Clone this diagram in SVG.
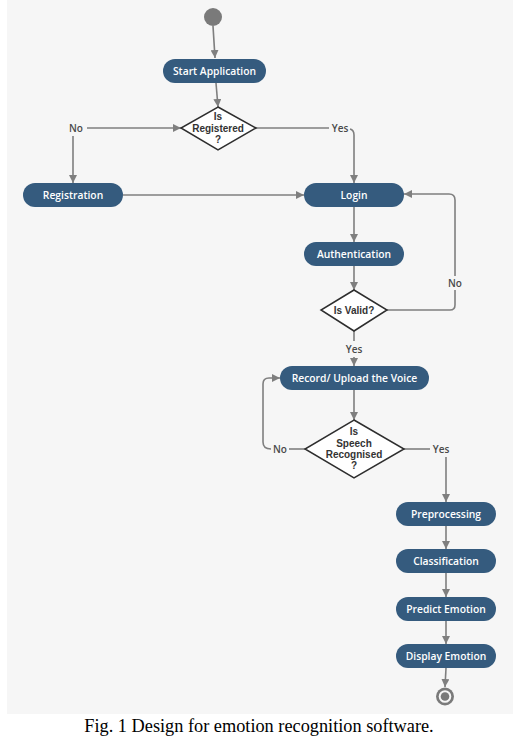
<svg xmlns="http://www.w3.org/2000/svg" width="517" height="745" viewBox="0 0 517 745">
<defs>
<marker id="ah" viewBox="0 0 10 10" refX="10" refY="5" markerWidth="8" markerHeight="8" markerUnits="userSpaceOnUse" orient="auto">
<path d="M0,0 L10,5 L0,10 Z" fill="#7f7f7f"/>
</marker>
<style>
.bg{fill:#f6f6f6}
.act{fill:#355b7e}
.act-t{fill:#ffffff;font-family:"Open Sans","Noto Sans",sans-serif;font-size:10.3px;font-weight:600;text-anchor:middle;dominant-baseline:central}
.dec{fill:#ffffff;stroke:#2e2e2e;stroke-width:1.5}
.dec-t{fill:#333333;font-family:"Liberation Sans",Arial,sans-serif;font-size:10px;font-weight:700;text-anchor:middle}
.lbl{fill:#4a4a4a;font-family:"Open Sans","Noto Sans",sans-serif;font-size:10px;font-weight:600;text-anchor:middle;dominant-baseline:central}
.c{fill:none;stroke:#7f7f7f;stroke-width:1.6}
.a{marker-end:url(#ah)}
.cap{fill:#000;font-family:"Liberation Serif","Times New Roman",serif;font-size:18.3px;text-anchor:middle}
</style>
</defs>
<rect class="bg" x="7" y="0" width="506" height="714"/>

<g id="connectors">
<path class="c a" d="M213,26 L215,58"/>
<path class="c a" d="M216,83 L218,107"/>
<path class="c a" d="M87,128 L181,128"/>
<path class="c a" d="M73,136 L73,183"/>
<path class="c" d="M256,128 L329,128"/>
<path class="c a" d="M350,129 Q354,130 354,135 L354,183"/>
<path class="c a" d="M123,195 L304,195"/>
<path class="c a" d="M354,207 L354,242"/>
<path class="c a" d="M354,266 L354,290"/>
<path class="c" d="M387,310 L450,310 Q455,310 455,305 L455,290"/>
<path class="c a" d="M455,276 L455,200 Q455,194 449,194 L404,194"/>
<path class="c" d="M354,331 L354,341"/>
<path class="c a" d="M354,357 L354,366"/>
<path class="c a" d="M354,390 L354,420"/>
<path class="c" d="M305,449 L289,449"/>
<path class="c a" d="M271,449 Q263,449 263,442 L263,384 Q263,378 269,378 L280,378"/>
<path class="c" d="M404,449 L430,449"/>
<path class="c a" d="M446,457 L446,502"/>
<path class="c a" d="M446,526 L446,549"/>
<path class="c a" d="M446,573 L446,597"/>
<path class="c a" d="M446,621 L446,644"/>
<path class="c a" d="M446,668 L445,687"/>
</g>

<g id="labels">
<text class="lbl" x="76" y="128">No</text>
<text class="lbl" x="340" y="128">Yes</text>
<text class="lbl" x="455" y="283">No</text>
<text class="lbl" x="354" y="349">Yes</text>
<text class="lbl" x="280" y="449">No</text>
<text class="lbl" x="441" y="449">Yes</text>
</g>

<g id="start"><circle cx="213" cy="17" r="9" fill="#7a7a7a"/></g>

<g id="start-application"><rect class="act" x="163" y="59" width="103" height="24" rx="12"/><text class="act-t" x="214.5" y="71">Start Application</text></g>

<g id="is-registered"><polygon class="dec" points="218,107 256,128 218,150 181,128"/><text class="dec-t"><tspan x="218" y="120.4">Is</tspan><tspan x="218" y="131.6">Registered</tspan><tspan x="218" y="142.8">?</tspan></text></g>

<g id="registration"><rect class="act" x="23" y="183" width="100" height="24" rx="12"/><text class="act-t" x="73" y="195">Registration</text></g>

<g id="login"><rect class="act" x="304" y="183" width="100" height="24" rx="12"/><text class="act-t" x="354" y="195">Login</text></g>

<g id="authentication"><rect class="act" x="304" y="242" width="100" height="24" rx="12"/><text class="act-t" x="354" y="254">Authentication</text></g>

<g id="is-valid"><polygon class="dec" points="354,290 387,310 354,331 321,310"/><text class="dec-t" x="354" y="314">Is Valid?</text></g>

<g id="record-upload"><rect class="act" x="280" y="366" width="149" height="24" rx="12"/><text class="act-t" x="354.5" y="378">Record/ Upload the Voice</text></g>

<g id="is-speech-recognised"><polygon class="dec" points="354,420 404,449 354,478 305,449"/><text class="dec-t"><tspan x="354" y="435.3">Is</tspan><tspan x="354" y="446.5">Speech</tspan><tspan x="354" y="457.7">Recognised</tspan><tspan x="354" y="468.9">?</tspan></text></g>

<g id="preprocessing"><rect class="act" x="396" y="502" width="100" height="24" rx="12"/><text class="act-t" x="446" y="514">Preprocessing</text></g>

<g id="classification"><rect class="act" x="396" y="549" width="100" height="24" rx="12"/><text class="act-t" x="446" y="561">Classification</text></g>

<g id="predict-emotion"><rect class="act" x="396" y="597" width="100" height="24" rx="12"/><text class="act-t" x="446" y="609">Predict Emotion</text></g>

<g id="display-emotion"><rect class="act" x="396" y="644" width="100" height="24" rx="12"/><text class="act-t" x="446" y="656">Display Emotion</text></g>

<g id="end"><circle cx="445" cy="696.5" r="9" fill="#7a7a7a"/><circle cx="445" cy="696.5" r="6.3" fill="#f6f6f6"/><circle cx="445" cy="696.5" r="4.3" fill="#7a7a7a"/></g>

<text class="cap" x="259" y="732">Fig. 1 Design for emotion recognition software.</text>
</svg>
